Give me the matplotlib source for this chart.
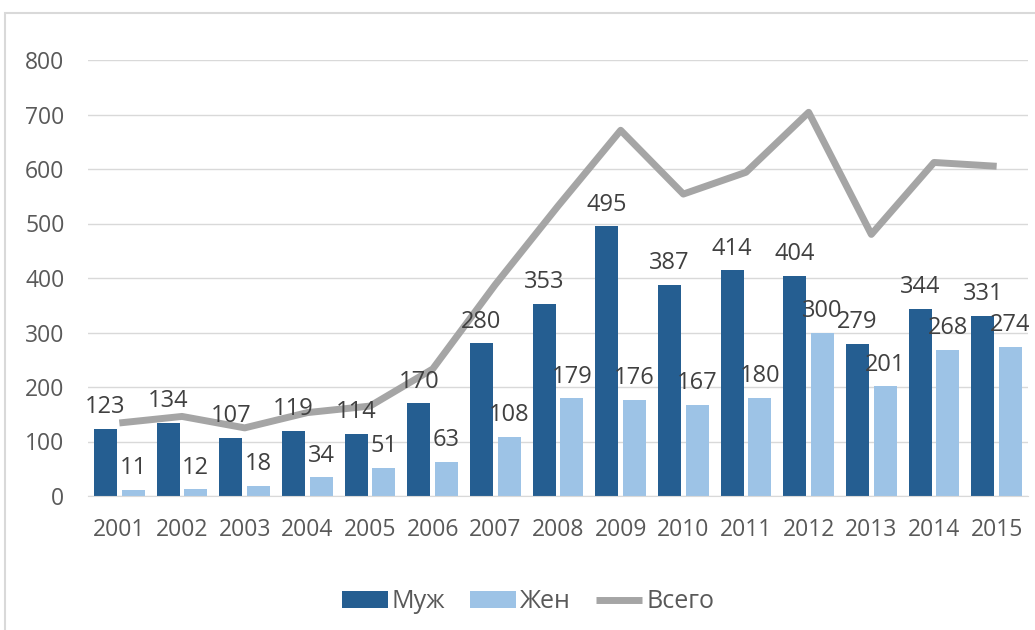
import matplotlib
matplotlib.use("Agg")
import matplotlib.pyplot as plt
import numpy as np
from matplotlib.patches import Rectangle

years = ["2001", "2002", "2003", "2004", "2005", "2006", "2007", "2008",
         "2009", "2010", "2011", "2012", "2013", "2014", "2015"]
men = [123, 134, 107, 119, 114, 170, 280, 353, 495, 387, 414, 404, 279, 344, 331]
women = [11, 12, 18, 34, 51, 63, 108, 179, 176, 167, 180, 300, 201, 268, 274]
total = [m + w for m, w in zip(men, women)]
yticks = [0, 100, 200, 300, 400, 500, 600, 700, 800]

plt.rcParams["font.family"] = ["Open Sans", "DejaVu Sans"]

c_men = "#255E91"
c_women = "#9DC3E6"
c_total = "#A5A5A5"
c_text = "#595959"
c_label = "#404040"

fig = plt.figure(figsize=(10.35, 6.3), dpi=100)
fig.patches.append(Rectangle((5 / 1035, -0.05), 1.1, 1 - 13 / 630 + 0.05,
                             transform=fig.transFigure, fill=False,
                             edgecolor="#D9D9D9", linewidth=1.5))
ax = fig.add_axes([88 / 1035, 1 - 496 / 630, 940 / 1035, 436 / 630])

x = np.arange(len(years))
w = 0.37
off = 0.22
b1 = ax.bar(x - off, men, width=w, color=c_men, label="Муж", zorder=2)
b2 = ax.bar(x + off, women, width=w, color=c_women, label="Жен", zorder=2)
ax.plot(x, total, color=c_total, linewidth=5, label="Всего", zorder=3,
        solid_capstyle="butt")

for bars, vals in ((b1, men), (b2, women)):
    for b, v in zip(bars, vals):
        ax.annotate(str(v), (b.get_x() + b.get_width() / 2, v),
                    xytext=(0, 7), textcoords="offset points",
                    ha="center", va="bottom", fontsize=17, color=c_label,
                    zorder=4)

ax.set_xlim(-0.5, len(years) - 0.5)
ax.set_ylim(0, 800)
ax.set_yticks(yticks)
ax.set_yticklabels([str(t) for t in yticks])
ax.set_xticks(x)
ax.set_xticklabels(years)
ax.tick_params(axis="both", length=0, labelsize=16.5, colors=c_text)
ax.tick_params(axis="y", pad=17)
ax.tick_params(axis="x", pad=16)
ax.grid(axis="y", color="#D9D9D9", linewidth=1, zorder=0)
for s in ("top", "right", "left"):
    ax.spines[s].set_visible(False)
ax.spines["bottom"].set_color("#D9D9D9")

handles, labels = ax.get_legend_handles_labels()
order = [labels.index(n) for n in ("Муж", "Жен", "Всего")]
leg = fig.legend([handles[i] for i in order], [labels[i] for i in order],
                 loc="center", bbox_to_anchor=(0.51, 1 - 602 / 630), ncol=3,
                 frameon=False, fontsize=18, handlelength=1.85,
                 handleheight=0.65, handletextpad=0.15, columnspacing=1.0)
for t in leg.get_texts():
    t.set_color(c_text)

fig.savefig("out.png", dpi=100)
